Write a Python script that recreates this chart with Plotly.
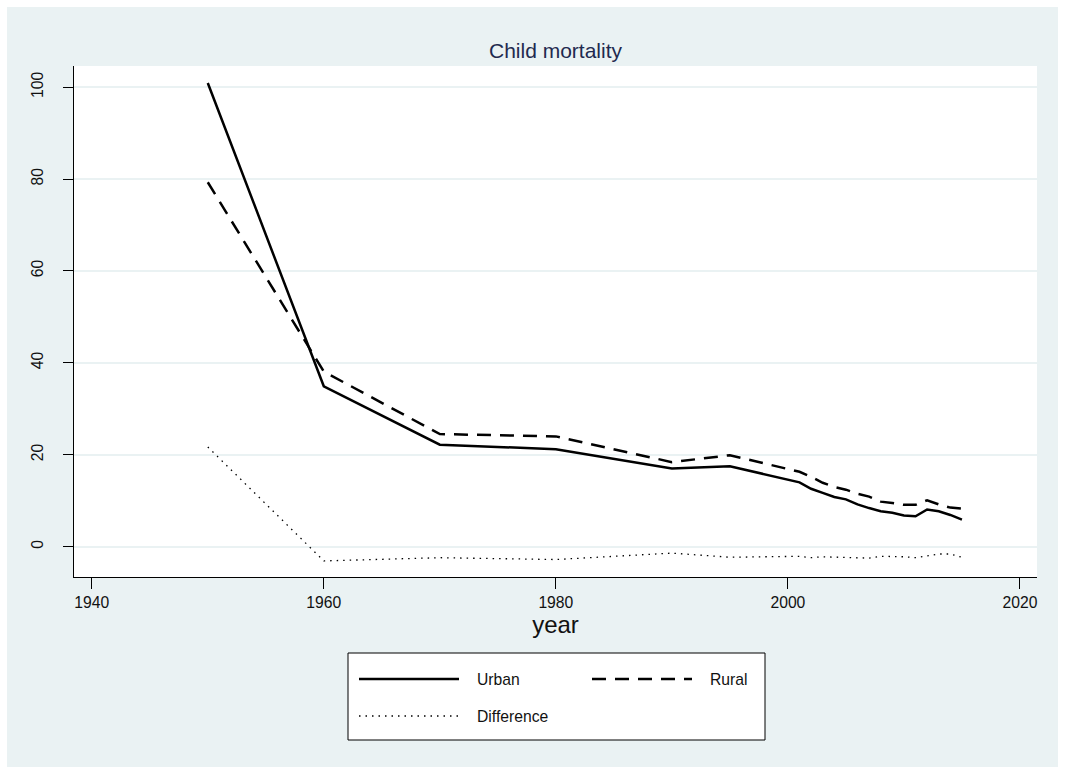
import plotly.graph_objects as go

# ---- data ----
years = [1950, 1960, 1970, 1980, 1990, 1995,
         2001, 2002, 2003, 2004, 2005, 2006, 2007, 2008,
         2009, 2010, 2011, 2012, 2013, 2014, 2015]
urban = [100.9, 34.9, 22.2, 21.2, 17.0, 17.5,
         14.0, 12.6, 11.7, 10.8, 10.3, 9.2, 8.4, 7.7,
         7.4, 6.8, 6.6, 8.1, 7.7, 6.9, 5.9]
rural = [79.3, 38.1, 24.5, 24.0, 18.4, 19.9,
         16.3, 15.2, 13.9, 13.0, 12.4, 11.5, 10.9, 9.8,
         9.5, 9.1, 9.1, 10.1, 9.2, 8.5, 8.3]
difference = [21.7, -3.1, -2.4, -2.8, -1.4, -2.3,
              -2.1, -2.4, -2.2, -2.3, -2.3, -2.5, -2.5, -2.1,
              -2.1, -2.2, -2.4, -2.0, -1.6, -1.6, -2.3]

x_ticks = [1940, 1960, 1980, 2000, 2020]
y_ticks = [0, 20, 40, 60, 80, 100]
series_names = ["Urban", "Rural", "Difference"]

# ---- styles ----
W, H = 1065, 774
ML, MR, MT, MB = 74, 28, 66, 197
PW, PH = W - ML - MR, H - MT - MB
BG = "#EAF2F3"
FONT = "Liberation Sans, Arial, Helvetica, sans-serif"
styles = {
    "Urban": dict(color="black", width=2.5, dash="solid"),
    "Rural": dict(color="black", width=2.5, dash="14px,9px"),
    "Difference": dict(color="black", width=1.3, dash="1.5px,5px"),
}


def px_x(x):
    return (x - ML) / PW


def px_y(y):
    return (H - MB - y) / PH


fig = go.Figure()
for name, vals in zip(series_names, [urban, rural, difference]):
    fig.add_trace(go.Scatter(x=years, y=vals, mode="lines", name=name,
                             line=styles[name], showlegend=False))

shapes = [
    # light bluish-gray graph region with thin white border
    dict(type="rect", xref="paper", yref="paper", layer="below",
         x0=px_x(7), x1=px_x(1058), y0=px_y(767), y1=px_y(7),
         fillcolor=BG, line=dict(width=0)),
    # white plot region
    dict(type="rect", xref="paper", yref="paper", layer="below",
         x0=0, x1=1, y0=0, y1=1, fillcolor="white", line=dict(width=0)),
    # legend box
    dict(type="rect", xref="paper", yref="paper",
         x0=px_x(348), x1=px_x(765), y0=px_y(740), y1=px_y(653),
         fillcolor="white", line=dict(color="black", width=1)),
]
annotations = []
legend_pos = {
    "Urban": (359, 679),
    "Rural": (592, 679),
    "Difference": (359, 716),
}
for name in series_names:
    lx, ly = legend_pos[name]
    st = styles[name]
    shapes.append(dict(type="line", xref="paper", yref="paper",
                       x0=px_x(lx), x1=px_x(lx + 100), y0=px_y(ly), y1=px_y(ly),
                       line=dict(color=st["color"], width=st["width"], dash=st["dash"])))
    annotations.append(dict(xref="paper", yref="paper", x=px_x(lx + 116), y=px_y(ly),
                            text=name, showarrow=False, xanchor="left", yanchor="middle",
                            font=dict(family=FONT, size=15.7, color="#111111")))

fig.update_layout(
    width=W, height=H,
    margin=dict(l=ML, r=MR, t=MT, b=MB, pad=0),
    paper_bgcolor="white", plot_bgcolor="white",
    font=dict(family=FONT, size=15.7, color="#111111"),
    title=dict(text="Child mortality", x=0.5, xref="paper", xanchor="center",
               y=1 - 51 / H, yref="container", yanchor="middle",
               font=dict(family=FONT, size=21, color="#1f2a4f")),
    shapes=shapes, annotations=annotations, showlegend=False,
)
fig.update_xaxes(range=[1938.47, 2021.47], tickvals=x_ticks,
                 ticks="outside", ticklen=11, tickwidth=1, tickcolor="black",
                 showline=True, linecolor="black", linewidth=1,
                 showgrid=False, zeroline=False,
                 tickfont=dict(family=FONT, size=15.7, color="#111111"),
                 title=dict(text="year", font=dict(family=FONT, size=24, color="#111111"),
                            standoff=6))
fig.update_yaxes(range=[-6.6, 104.6], tickvals=y_ticks, tickangle=-90,
                 ticks="outside", ticklen=10, tickwidth=1, tickcolor="black",
                 showline=True, linecolor="black", linewidth=1,
                 showgrid=True, gridcolor=BG, gridwidth=2, zeroline=False,
                 tickfont=dict(family=FONT, size=15.7, color="#111111"),
                 ticklabelstandoff=14)

fig.write_html("out.html")
